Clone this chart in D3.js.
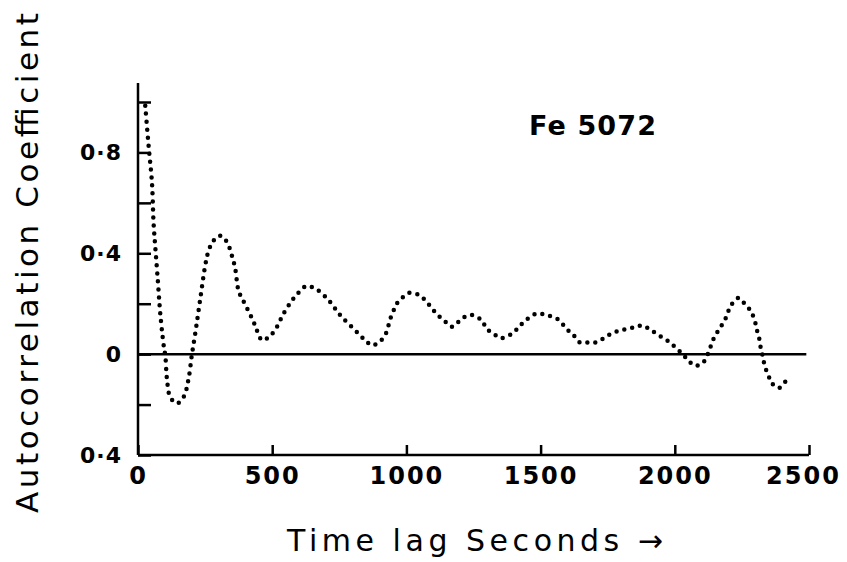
<!DOCTYPE html>
<html>
<head>
<meta charset="utf-8">
<script src="https://cdn.jsdelivr.net/npm/d3@7"></script>
<style>
  body { margin: 0; background: #fff; }
  svg { display: block; }
  .axis text { font-family: "DejaVu Sans", sans-serif; font-weight: bold; fill: #000; }
  .axis line { stroke: #000; stroke-width: 2.5; }
</style>
</head>
<body>
<div id="plot"></div>
<script>
// Time lag in seconds
const lags = [27, 40, 52, 58, 64, 74, 83, 95, 102, 108, 120, 145, 170, 188, 201, 213, 232, 251, 263, 281,
  306, 331, 350, 362, 375, 393, 412, 430, 443, 462, 480, 499, 517, 542, 579, 604, 627, 654, 679, 710,
  735, 759, 797, 828, 853, 873, 902, 923, 933, 946, 958, 970, 989, 1011, 1048, 1073, 1092, 1116, 1144, 1169,
  1190, 1212, 1242, 1281, 1299, 1324, 1351, 1398, 1421, 1448, 1483, 1520, 1566, 1597, 1624, 1647, 1678, 1703, 1729, 1758,
  1796, 1827, 1858, 1879, 1907, 1947, 1977, 2003, 2029, 2051, 2075, 2104, 2121, 2131, 2139, 2149, 2165, 2178, 2190, 2199,
  2208, 2220, 2238, 2258, 2277, 2295, 2307, 2314, 2321, 2329, 2335, 2348, 2360, 2388, 2413, 2431];

// Autocorrelation coefficient at each lag
const coefficients = [0.985, 0.82, 0.68, 0.52, 0.43, 0.29, 0.16, 0.04, -0.01, -0.10, -0.17, -0.195, -0.17, -0.10, 0, 0.08, 0.22, 0.355, 0.41, 0.45,
  0.47, 0.445, 0.39, 0.34, 0.25, 0.21, 0.17, 0.13, 0.094, 0.055, 0.062, 0.08, 0.107, 0.16, 0.22, 0.25, 0.27, 0.263, 0.247, 0.214,
  0.18, 0.148, 0.107, 0.074, 0.048, 0.035, 0.051, 0.081, 0.113, 0.159, 0.185, 0.21, 0.227, 0.243, 0.234, 0.21, 0.186, 0.156, 0.13, 0.109,
  0.125, 0.145, 0.156, 0.133, 0.10, 0.082, 0.063, 0.085, 0.11, 0.137, 0.16, 0.156, 0.137, 0.10, 0.074, 0.046, 0.046, 0.046, 0.059, 0.078,
  0.095, 0.10, 0.11, 0.113, 0.098, 0.07, 0.05, 0.026, 0.0, -0.026, -0.046, -0.035, -0.004, 0.023, 0.046, 0.071, 0.098, 0.12, 0.143, 0.169,
  0.19, 0.208, 0.223, 0.203, 0.18, 0.143, 0.091, 0.065, 0.02, -0.013, -0.048, -0.081, -0.113, -0.134, -0.108, -0.087];

// Tick values and labels
const xTickValues = [0, 500, 1000, 1500, 2000, 2500];
const xTickLabels = ["0", "500", "1000", "1500", "2000", "2500"];
const yTickValues = [-0.4, -0.2, 0, 0.2, 0.4, 0.6, 0.8, 1.0];
const yTickLabels = ["0·4", "", "0", "", "0·4", "", "0·8", ""];

const width = 847, height = 562;

const svg = d3.select("#plot")
  .append("svg")
  .attr("width", width)
  .attr("height", height);

const x = d3.scaleLinear().domain([0, 2500]).range([138, 809]);
const y = d3.scaleLinear().domain([-0.4, 1.0]).range([455, 102]);

// x axis (ticks point up into the plot)
const xAxis = svg.append("g")
  .attr("class", "axis")
  .attr("transform", `translate(0,${y(-0.4)})`)
  .call(d3.axisBottom(x)
    .tickValues(xTickValues)
    .tickFormat((d, i) => xTickLabels[i])
    .tickSizeInner(-10)
    .tickSizeOuter(0)
    .tickPadding(12));
xAxis.select(".domain").remove();
xAxis.selectAll("text")
  .style("font-size", "24px")
  .style("letter-spacing", "2px");
// keep the last label inside the page
xAxis.selectAll(".tick:last-of-type text").attr("dx", "-6");

// y axis (ticks point right into the plot)
const yAxis = svg.append("g")
  .attr("class", "axis")
  .attr("transform", `translate(${x(0)},0)`)
  .call(d3.axisLeft(y)
    .tickValues(yTickValues)
    .tickFormat((d, i) => yTickLabels[i])
    .tickSizeInner(-13)
    .tickSizeOuter(0)
    .tickPadding(16));
yAxis.select(".domain").remove();
yAxis.selectAll("text")
  .style("font-size", "22px")
  .style("letter-spacing", "1px");

// axis lines
svg.append("line")
  .attr("x1", x(0)).attr("x2", x(0))
  .attr("y1", y(-0.4)).attr("y2", y(1.075))
  .attr("stroke", "#000").attr("stroke-width", 2.5);
svg.append("line")
  .attr("x1", x(0)).attr("x2", x(2500))
  .attr("y1", y(-0.4)).attr("y2", y(-0.4))
  .attr("stroke", "#000").attr("stroke-width", 2.5);

// zero line
svg.append("line")
  .attr("x1", x(0)).attr("x2", x(2490))
  .attr("y1", y(0)).attr("y2", y(0))
  .attr("stroke", "#000").attr("stroke-width", 2.5);

// dotted curve
const points = lags.map((d, i) => [d, coefficients[i]]);
const line = d3.line()
  .x(d => x(d[0]))
  .y(d => y(d[1]))
  .curve(d3.curveCatmullRom);

svg.append("path")
  .datum(points)
  .attr("d", line)
  .attr("fill", "none")
  .attr("stroke", "#000")
  .attr("stroke-width", 4.5)
  .attr("stroke-linecap", "round")
  .attr("stroke-dasharray", "0 8");

// label in the plot
svg.append("text")
  .attr("x", 529)
  .attr("y", 135)
  .attr("textLength", 127)
  .attr("lengthAdjust", "spacing")
  .style("font-family", "DejaVu Sans, sans-serif")
  .style("font-weight", "bold")
  .style("font-size", "27px")
  .text("Fe 5072");

// axis titles
svg.append("text")
  .attr("transform", "translate(38,263) rotate(-90)")
  .attr("text-anchor", "middle")
  .attr("textLength", 500)
  .attr("lengthAdjust", "spacing")
  .style("font-family", "DejaVu Sans, sans-serif")
  .style("font-size", "31px")
  .text("Autocorrelation Coefficient");

svg.append("text")
  .attr("x", 475)
  .attr("y", 551)
  .attr("text-anchor", "middle")
  .attr("textLength", 376)
  .attr("lengthAdjust", "spacing")
  .style("font-family", "DejaVu Sans, sans-serif")
  .style("font-size", "30px")
  .text("Time lag Seconds →");
</script>
</body>
</html>
